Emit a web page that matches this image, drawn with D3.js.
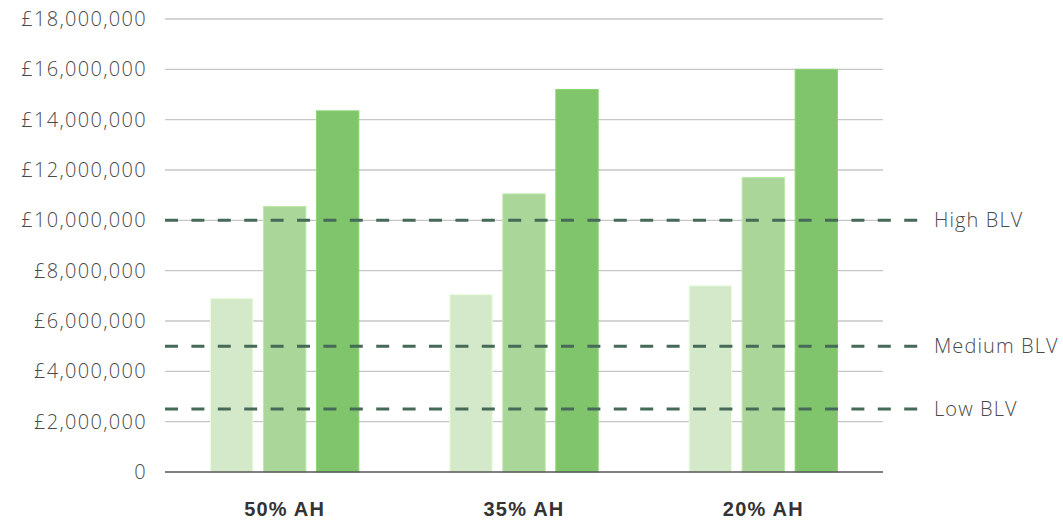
<!DOCTYPE html>
<html>
<head>
<meta charset="utf-8">
<script src="https://cdn.jsdelivr.net/npm/d3@7"></script>
<style>
  html, body { margin: 0; padding: 0; background: #fff; }
  svg { display: block; }
</style>
</head>
<body>
<svg id="chart" width="1063" height="525"></svg>
<script>
// ---- Data ----
const categories = ["50% AH", "35% AH", "20% AH"];
const seriesNames = ["Series A", "Series B", "Series C"];
const seriesA = [6900000, 7050000, 7400000];
const seriesB = [10550000, 11050000, 11700000];
const seriesC = [14350000, 15200000, 16000000];
const yTicks = [0, 2000000, 4000000, 6000000, 8000000, 10000000, 12000000, 14000000, 16000000, 18000000];
const refLabels = ["High BLV", "Medium BLV", "Low BLV"];
const refValues = [10000000, 5000000, 2500000];
const seriesColors = ["#d4e9ca", "#abd699", "#80c46c"];

// ---- Layout ----
const W = 1063, H = 525;
const margin = { top: 19, right: 180, bottom: 53, left: 165 };
const svg = d3.select("#chart");
const plotW = W - margin.left - margin.right;
const plotH = H - margin.top - margin.bottom;
const g = svg.append("g").attr("transform", `translate(${margin.left},${margin.top})`);

const x0 = d3.scaleBand().domain(categories).range([0, plotW]).padding(0);
const inner = x0.bandwidth() * 0.19;
const x1 = d3.scaleBand().domain(seriesNames)
  .range([inner, x0.bandwidth() - inner]).paddingInner(0.2);
const y = d3.scaleLinear().domain([0, 18000000]).range([plotH, 0]);

const fmt = v => v === 0 ? "0" : "£" + d3.format(",")(v);

// gridlines
g.append("g").selectAll("line").data(yTicks.filter(d => d > 0)).join("line")
  .attr("x1", 0).attr("x2", plotW)
  .attr("y1", d => y(d)).attr("y2", d => y(d))
  .attr("stroke", "#c6c6c6").attr("stroke-width", 1.3);

// y axis labels
const yAxis = d3.axisLeft(y).tickValues(yTicks).tickFormat(fmt).tickSize(0).tickPadding(18);
const ya = g.append("g").call(yAxis);
ya.select(".domain").remove();
ya.selectAll("text")
  .attr("font-family", "'Open Sans', sans-serif")
  .attr("font-weight", 300)
  .attr("font-size", 20)
  .attr("letter-spacing", "1.3px")
  .attr("fill", "#4a4a4a");

// bars
const data = categories.map((c, i) => ({
  cat: c,
  vals: [seriesA[i], seriesB[i], seriesC[i]]
}));
const groups = g.append("g").selectAll("g").data(data).join("g")
  .attr("transform", d => `translate(${x0(d.cat)},0)`);
groups.selectAll("rect")
  .data(d => d.vals.map((v, j) => ({ name: seriesNames[j], v, j })))
  .join("rect")
  .attr("x", d => x1(d.name))
  .attr("width", x1.bandwidth())
  .attr("y", d => y(d.v))
  .attr("height", d => plotH - y(d.v))
  .attr("fill", d => seriesColors[d.j])
  .attr("stroke", d => d3.color(seriesColors[d.j]).brighter(0.25))
  .attr("stroke-width", 1);

// baseline
g.append("line")
  .attr("x1", 0).attr("x2", plotW)
  .attr("y1", plotH).attr("y2", plotH)
  .attr("stroke", "#555").attr("stroke-width", 1.5);

// reference lines
const refs = refLabels.map((l, i) => ({ l, v: refValues[i] }));
g.append("g").selectAll("line").data(refs).join("line")
  .attr("x1", 0).attr("x2", plotW + 35)
  .attr("y1", d => y(d.v)).attr("y2", d => y(d.v))
  .attr("stroke", "#466a58").attr("stroke-width", 3)
  .attr("stroke-dasharray", "13 13.4");
g.append("g").selectAll("text").data(refs).join("text")
  .attr("x", plotW + 51)
  .attr("y", d => y(d.v))
  .attr("dy", "0.35em")
  .attr("font-family", "'Open Sans', sans-serif")
  .attr("font-weight", 300)
  .attr("font-size", 20)
  .attr("letter-spacing", "1.1px")
  .attr("fill", "#4a4a4a")
  .text(d => d.l);

// x axis labels
const xAxis = d3.axisBottom(x0).tickSize(0).tickPadding(30);
const xa = g.append("g").attr("transform", `translate(0,${plotH})`).call(xAxis);
xa.select(".domain").remove();
xa.selectAll("text")
  .attr("font-family", "'Liberation Sans', Arial, sans-serif")
  .attr("font-weight", 700)
  .attr("font-size", 20)
  .attr("letter-spacing", "1.2px")
  .attr("fill", "#333");
</script>
</body>
</html>
